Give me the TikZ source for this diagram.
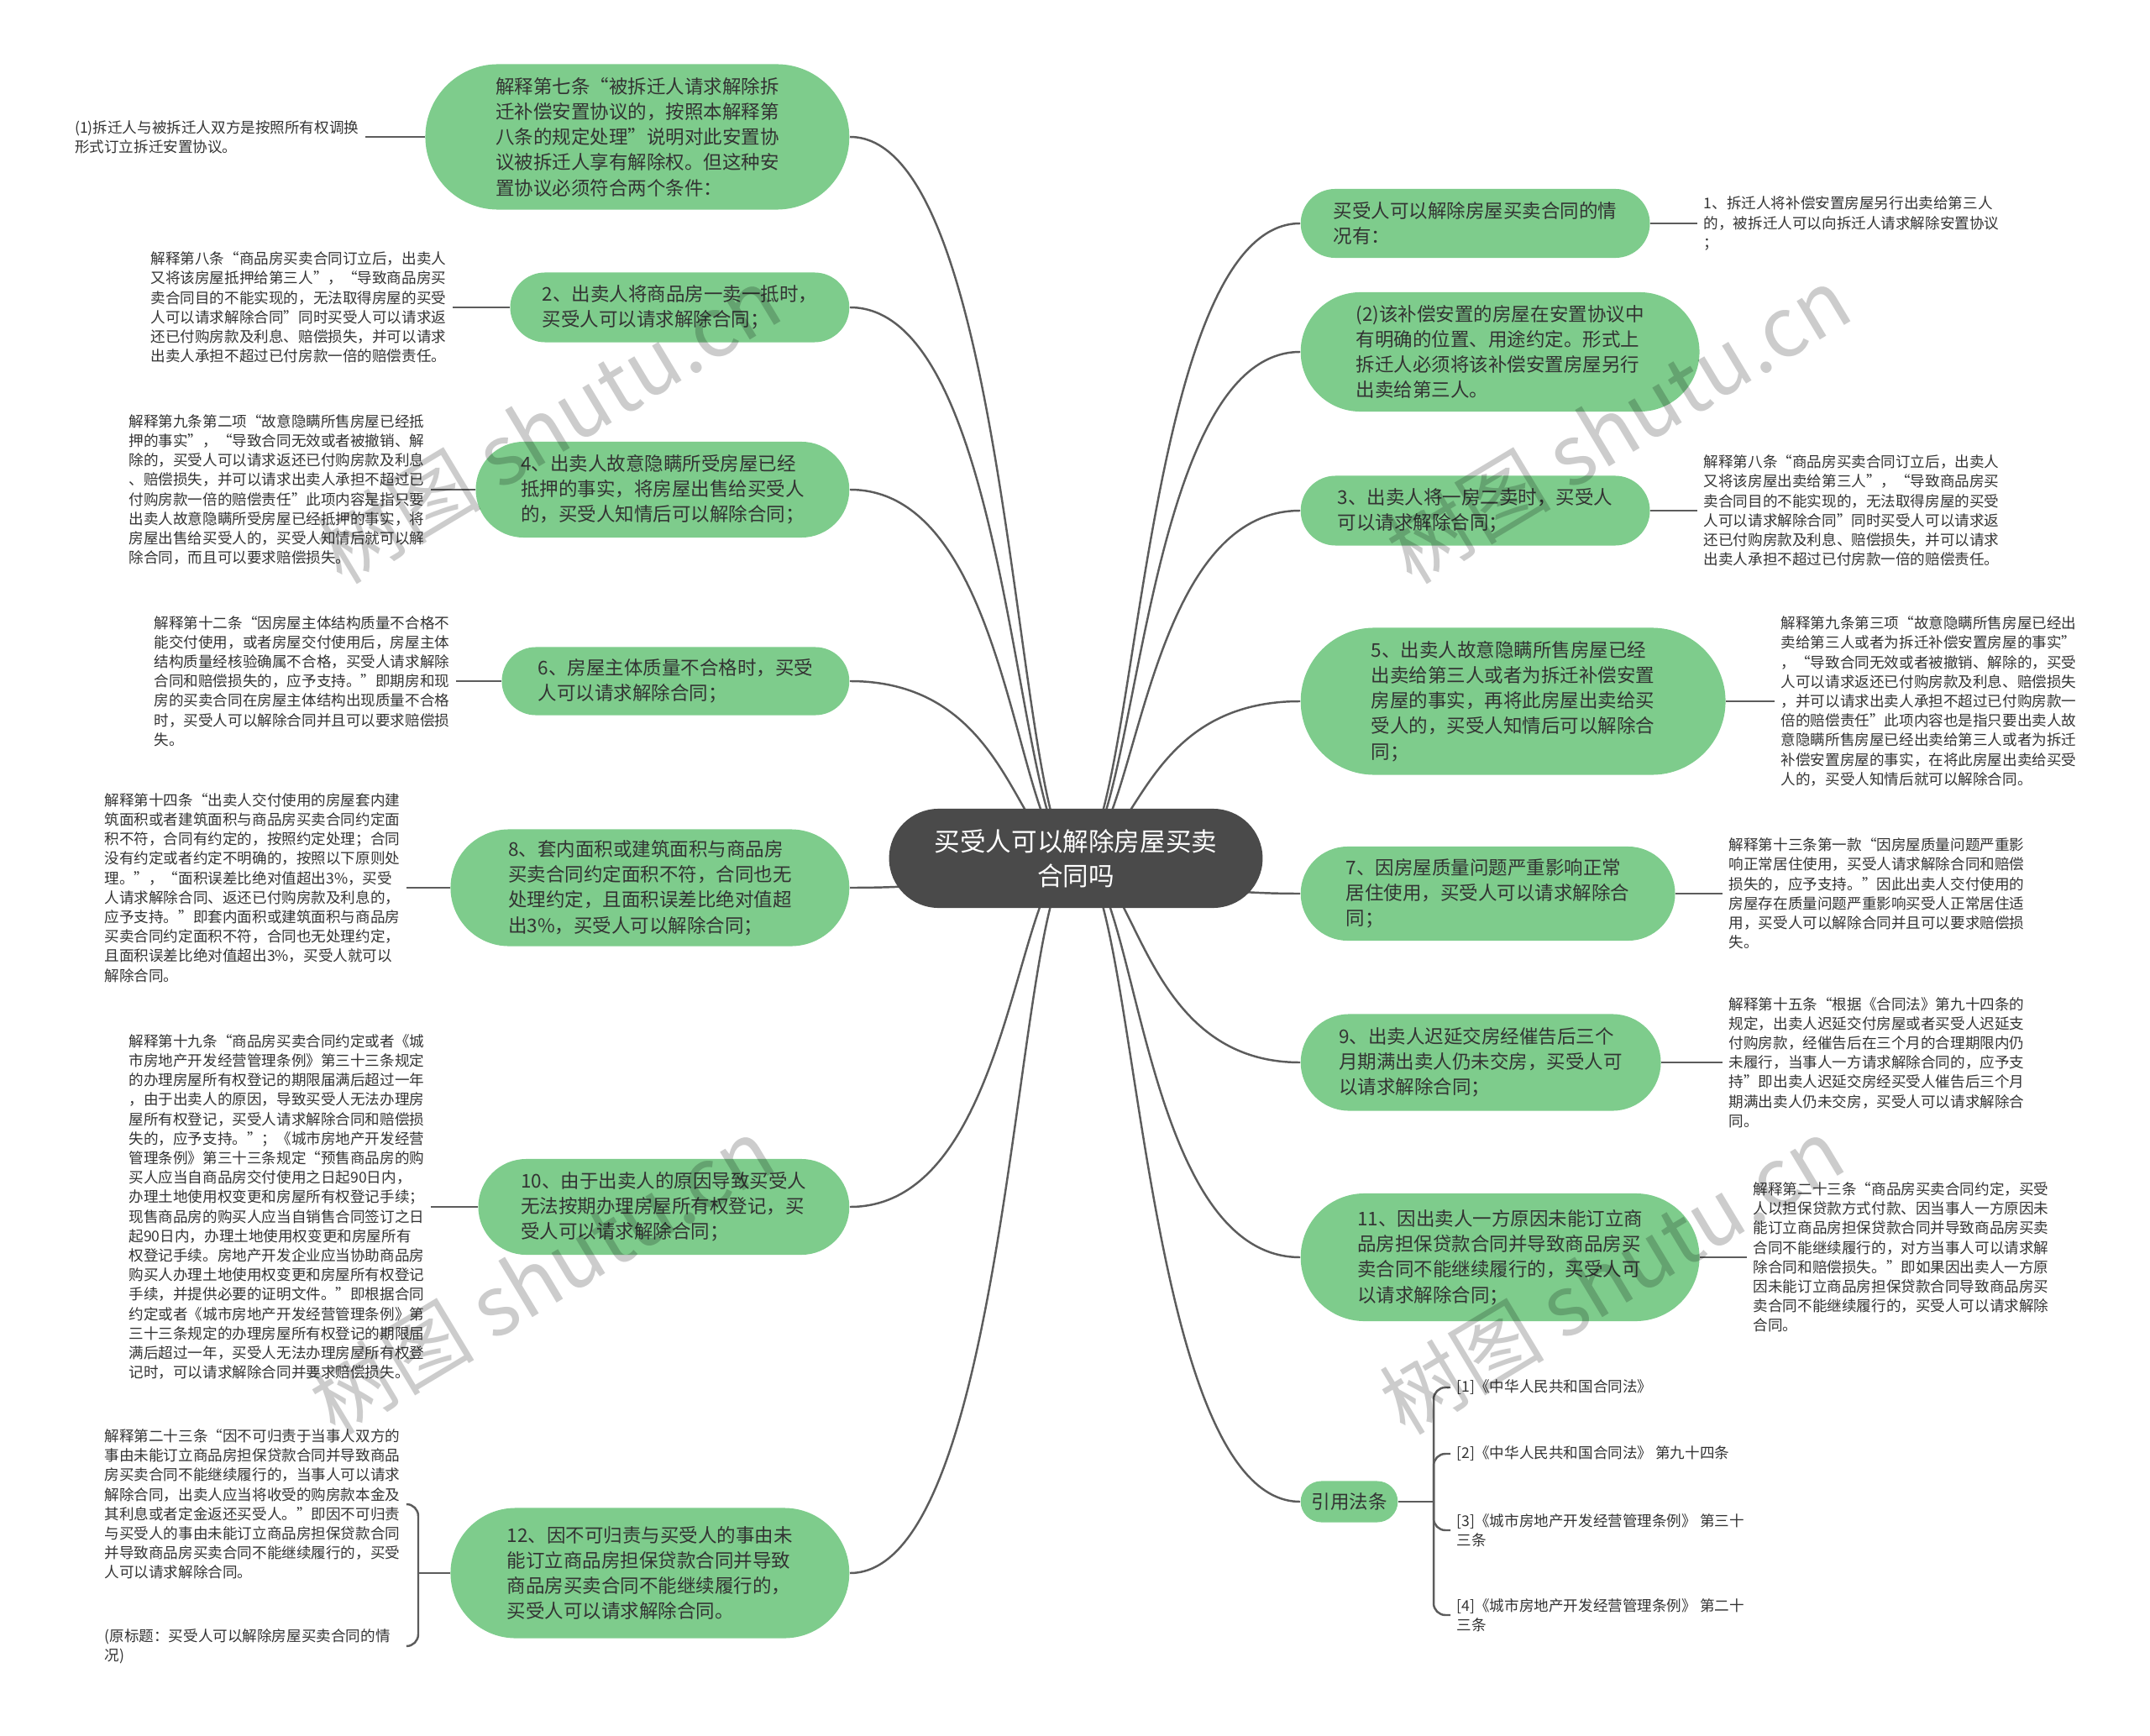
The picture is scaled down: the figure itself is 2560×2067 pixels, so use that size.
\documentclass[tikz,border=0pt]{standalone}
\usepackage{fontspec}
\setmainfont{Noto Sans CJK SC}
\usetikzlibrary{shapes.misc,backgrounds}

\definecolor{leafgreen}{RGB}{126,204,140}
\definecolor{rootgray}{HTML}{4A4A4A}
\definecolor{wiregray}{HTML}{5C5C5C}
\definecolor{inkgray}{HTML}{333333}

\begin{document}
\begin{tikzpicture}[x=0.01cm,y=-0.01cm,
  root/.style={rounded rectangle,fill=rootgray,text=white,align=center,
    font=\fontsize{8.7}{11.6}\selectfont},
  topic/.style={rounded rectangle,fill=leafgreen,text=inkgray,align=left,
    font=\fontsize{6.4}{8.6}\selectfont},
  memo/.style={align=left,text=inkgray,inner sep=2pt,
    font=\fontsize{5}{6.6}\selectfont},
  wire/.style={draw=wiregray,line width=0.7pt},
  fork/.style={wire,rounded corners=4pt},
  stamp/.style={rotate=31,text=black,opacity=0.2,
    font=\fontsize{28}{28}\selectfont}]

\useasboundingbox (0,0) rectangle (2560,2067);

\node[root,minimum width=4.68cm,minimum height=1.18cm] (q) at (1281,1022)
  {买受人可以解除房屋买卖\\合同吗};

% left side
\node[topic,anchor=east,minimum width=5.28cm,minimum height=1.73cm] (l1) at (1012,163)
  {解释第七条“被拆迁人请求解除拆\\迁补偿安置协议的，按照本解释第\\八条的规定处理”说明对此安置协\\议被拆迁人享有解除权。但这种安\\置协议必须符合两个条件：};
\node[topic,anchor=east,minimum width=4.27cm,minimum height=0.83cm] (l2) at (1012,366)
  {2、出卖人将商品房一卖一抵时，\\买受人可以请求解除合同；};
\node[topic,anchor=east,minimum width=4.68cm,minimum height=1.14cm] (l4) at (1012,583)
  {4、出卖人故意隐瞒所受房屋已经\\抵押的事实，将房屋出售给买受人\\的，买受人知情后可以解除合同；};
\node[topic,anchor=east,minimum width=4.37cm,minimum height=0.81cm] (l6) at (1012,811)
  {6、房屋主体质量不合格时，买受\\人可以请求解除合同；};
\node[topic,anchor=east,minimum width=4.98cm,minimum height=1.39cm] (l8) at (1012,1057)
  {8、套内面积或建筑面积与商品房\\买卖合同约定面积不符，合同也无\\处理约定，且面积误差比绝对值超\\出3\%，买受人可以解除合同；};
\node[topic,anchor=east,minimum width=4.65cm,minimum height=1.14cm] (l10) at (1012,1437)
  {10、由于出卖人的原因导致买受人\\无法按期办理房屋所有权登记，买\\受人可以请求解除合同；};
\node[topic,anchor=east,minimum width=4.98cm,minimum height=1.55cm] (l12) at (1012,1873)
  {12、因不可归责与买受人的事由未\\能订立商品房担保贷款合同并导致\\商品房买卖合同不能继续履行的，\\买受人可以请求解除合同。};

\node[memo,anchor=east] (t1) at (435,163)
  {(1)拆迁人与被拆迁人双方是按照所有权调换\\形式订立拆迁安置协议。};
\node[memo,anchor=east] (t2) at (539,366)
  {解释第八条“商品房买卖合同订立后，出卖人\\又将该房屋抵押给第三人”，“导致商品房买\\卖合同目的不能实现的，无法取得房屋的买受\\人可以请求解除合同”同时买受人可以请求返\\还已付购房款及利息、赔偿损失，并可以请求\\出卖人承担不超过已付房款一倍的赔偿责任。};
\node[memo,anchor=east] (t4) at (513,583)
  {解释第九条第二项“故意隐瞒所售房屋已经抵\\押的事实”，“导致合同无效或者被撤销、解\\除的，买受人可以请求返还已付购房款及利息\\、赔偿损失，并可以请求出卖人承担不超过已\\付购房款一倍的赔偿责任”此项内容是指只要\\出卖人故意隐瞒所受房屋已经抵押的事实，将\\房屋出售给买受人的，买受人知情后就可以解\\除合同，而且可以要求赔偿损失。};
\node[memo,anchor=east] (t6) at (543,811)
  {解释第十二条“因房屋主体结构质量不合格不\\能交付使用，或者房屋交付使用后，房屋主体\\结构质量经核验确属不合格，买受人请求解除\\合同和赔偿损失的，应予支持。”即期房和现\\房的买卖合同在房屋主体结构出现质量不合格\\时，买受人可以解除合同并且可以要求赔偿损\\失。};
\node[memo,anchor=east] (t8) at (484,1057)
  {解释第十四条“出卖人交付使用的房屋套内建\\筑面积或者建筑面积与商品房买卖合同约定面\\积不符，合同有约定的，按照约定处理；合同\\没有约定或者约定不明确的，按照以下原则处\\理。”，“面积误差比绝对值超出3\%，买受\\人请求解除合同、返还已付购房款及利息的，\\应予支持。”即套内面积或建筑面积与商品房\\买卖合同约定面积不符，合同也无处理约定，\\且面积误差比绝对值超出3\%，买受人就可以\\解除合同。};
\node[memo,anchor=east] (t10) at (513,1437)
  {解释第十九条“商品房买卖合同约定或者《城\\市房地产开发经营管理条例》第三十三条规定\\的办理房屋所有权登记的期限届满后超过一年\\，由于出卖人的原因，导致买受人无法办理房\\屋所有权登记，买受人请求解除合同和赔偿损\\失的，应予支持。”；《城市房地产开发经营\\管理条例》第三十三条规定“预售商品房的购\\买人应当自商品房交付使用之日起90日内，\\办理土地使用权变更和房屋所有权登记手续；\\现售商品房的购买人应当自销售合同签订之日\\起90日内，办理土地使用权变更和房屋所有\\权登记手续。房地产开发企业应当协助商品房\\购买人办理土地使用权变更和房屋所有权登记\\手续，并提供必要的证明文件。”即根据合同\\约定或者《城市房地产开发经营管理条例》第\\三十三条规定的办理房屋所有权登记的期限届\\满后超过一年，买受人无法办理房屋所有权登\\记时，可以请求解除合同并要求赔偿损失。};
\node[memo,anchor=east] (t12a) at (484,1791)
  {解释第二十三条“因不可归责于当事人双方的\\事由未能订立商品房担保贷款合同并导致商品\\房买卖合同不能继续履行的，当事人可以请求\\解除合同，出卖人应当将收受的购房款本金及\\其利息或者定金返还买受人。”即因不可归责\\与买受人的事由未能订立商品房担保贷款合同\\并导致商品房买卖合同不能继续履行的，买受\\人可以请求解除合同。};
\node[memo,anchor=west] (t12b) at (t12a.west |- 0,1960)
  {(原标题：买受人可以解除房屋买卖合同的情\\况)};
\coordinate (j12) at (498,1873);

% right side
\node[topic,anchor=west,minimum width=4.39cm,minimum height=0.82cm] (r1) at (1548,266)
  {买受人可以解除房屋买卖合同的情\\况有：};
\node[topic,anchor=west,minimum width=4.98cm,minimum height=1.42cm] (r2) at (1548,419)
  {(2)该补偿安置的房屋在安置协议中\\有明确的位置、用途约定。形式上\\拆迁人必须将该补偿安置房屋另行\\出卖给第三人。};
\node[topic,anchor=west,minimum width=4.39cm,minimum height=0.83cm] (r3) at (1548,608)
  {3、出卖人将一房二卖时，买受人\\可以请求解除合同；};
\node[topic,anchor=west,minimum width=5.29cm,minimum height=1.75cm] (r5) at (1548,835)
  {5、出卖人故意隐瞒所售房屋已经\\出卖给第三人或者为拆迁补偿安置\\房屋的事实，再将此房屋出卖给买\\受人的，买受人知情后可以解除合\\同；};
\node[topic,anchor=west,minimum width=4.69cm,minimum height=1.12cm] (r7) at (1548,1064)
  {7、因房屋质量问题严重影响正常\\居住使用，买受人可以请求解除合\\同；};
\node[topic,anchor=west,minimum width=4.52cm,minimum height=1.15cm] (r9) at (1548,1265)
  {9、出卖人迟延交房经催告后三个\\月期满出卖人仍未交房，买受人可\\以请求解除合同；};
\node[topic,anchor=west,minimum width=4.98cm,minimum height=1.52cm] (r11) at (1548,1497)
  {11、因出卖人一方原因未能订立商\\品房担保贷款合同并导致商品房买\\卖合同不能继续履行的，买受人可\\以请求解除合同；};
\node[topic,anchor=west,minimum width=1.39cm,minimum height=0.49cm] (r13) at (1548,1788)
  {引用法条};

\node[memo,anchor=west] (s1) at (2021,266)
  {1、拆迁人将补偿安置房屋另行出卖给第三人\\的，被拆迁人可以向拆迁人请求解除安置协议\\；};
\node[memo,anchor=west] (s3) at (2021,608)
  {解释第八条“商品房买卖合同订立后，出卖人\\又将该房屋出卖给第三人”，“导致商品房买\\卖合同目的不能实现的，无法取得房屋的买受\\人可以请求解除合同”同时买受人可以请求返\\还已付购房款及利息、赔偿损失，并可以请求\\出卖人承担不超过已付房款一倍的赔偿责任。};
\node[memo,anchor=west] (s5) at (2113,835)
  {解释第九条第三项“故意隐瞒所售房屋已经出\\卖给第三人或者为拆迁补偿安置房屋的事实”\\，“导致合同无效或者被撤销、解除的，买受\\人可以请求返还已付购房款及利息、赔偿损失\\，并可以请求出卖人承担不超过已付购房款一\\倍的赔偿责任”此项内容也是指只要出卖人故\\意隐瞒所售房屋已经出卖给第三人或者为拆迁\\补偿安置房屋的事实，在将此房屋出卖给买受\\人的，买受人知情后就可以解除合同。};
\node[memo,anchor=west] (s7) at (2051,1064)
  {解释第十三条第一款“因房屋质量问题严重影\\响正常居住使用，买受人请求解除合同和赔偿\\损失的，应予支持。”因此出卖人交付使用的\\房屋存在质量问题严重影响买受人正常居住适\\用，买受人可以解除合同并且可以要求赔偿损\\失。};
\node[memo,anchor=west] (s9) at (2051,1265)
  {解释第十五条“根据《合同法》第九十四条的\\规定，出卖人迟延交付房屋或者买受人迟延支\\付购房款，经催告后在三个月的合理期限内仍\\未履行，当事人一方请求解除合同的，应予支\\持”即出卖人迟延交房经买受人催告后三个月\\期满出卖人仍未交房，买受人可以请求解除合\\同。};
\node[memo,anchor=west] (s11) at (2080,1497)
  {解释第二十三条“商品房买卖合同约定，买受\\人以担保贷款方式付款、因当事人一方原因未\\能订立商品房担保贷款合同并导致商品房买卖\\合同不能继续履行的，对方当事人可以请求解\\除合同和赔偿损失。”即如果因出卖人一方原\\因未能订立商品房担保贷款合同导致商品房买\\卖合同不能继续履行的，买受人可以请求解除\\合同。};

\coordinate (j13) at (1707,1788);
\node[memo,anchor=west] (c1) at (1727,1652) {[1]《中华人民共和国合同法》};
\node[memo,anchor=west] (c2) at (1727,1731) {[2]《中华人民共和国合同法》 第九十四条};
\node[memo,anchor=west] (c3) at (1727,1822) {[3]《城市房地产开发经营管理条例》 第三十\\三条};
\node[memo,anchor=west] (c4) at (1727,1923) {[4]《城市房地产开发经营管理条例》 第二十\\三条};

\begin{pgfonlayer}{background}
  \foreach \n in {l1,l2,l4,l6,l8,l10,l12}
    \draw[wire] (q.center) .. controls +(-73,0) and +(196,0) .. (\n.east);
  \foreach \n in {r1,r2,r3,r5,r7,r9,r11,r13}
    \draw[wire] (q.center) .. controls +(74,0) and +(-193,0) .. (\n.west);
\end{pgfonlayer}

\foreach \a/\b in {l1/t1,l2/t2,l4/t4,l6/t6,l8/t8,l10/t10}
  \draw[wire] (\a.west) -- (\a.west -| \b.east);
\foreach \a/\b in {r1/s1,r3/s3,r5/s5,r7/s7,r9/s9,r11/s11}
  \draw[wire] (\a.east) -- (\a.east -| \b.west);

\draw[wire] (l12.west) -- (j12);
\draw[fork] (j12) |- (t12a.east);
\draw[fork] (j12) |- (t12a.east |- t12b.east);

\draw[wire] (r13.east) -- (j13);
\foreach \c in {c1,c2,c3,c4}
  \draw[fork] (j13) |- (\c.west);

% watermark
\foreach \wx/\wy [count=\i] in {653/506,1927/506,645/1519,1919/1519}
  \node[stamp] (w\i) at (\wx,\wy) {树图 shutu.cn};

\end{tikzpicture}
\end{document}
